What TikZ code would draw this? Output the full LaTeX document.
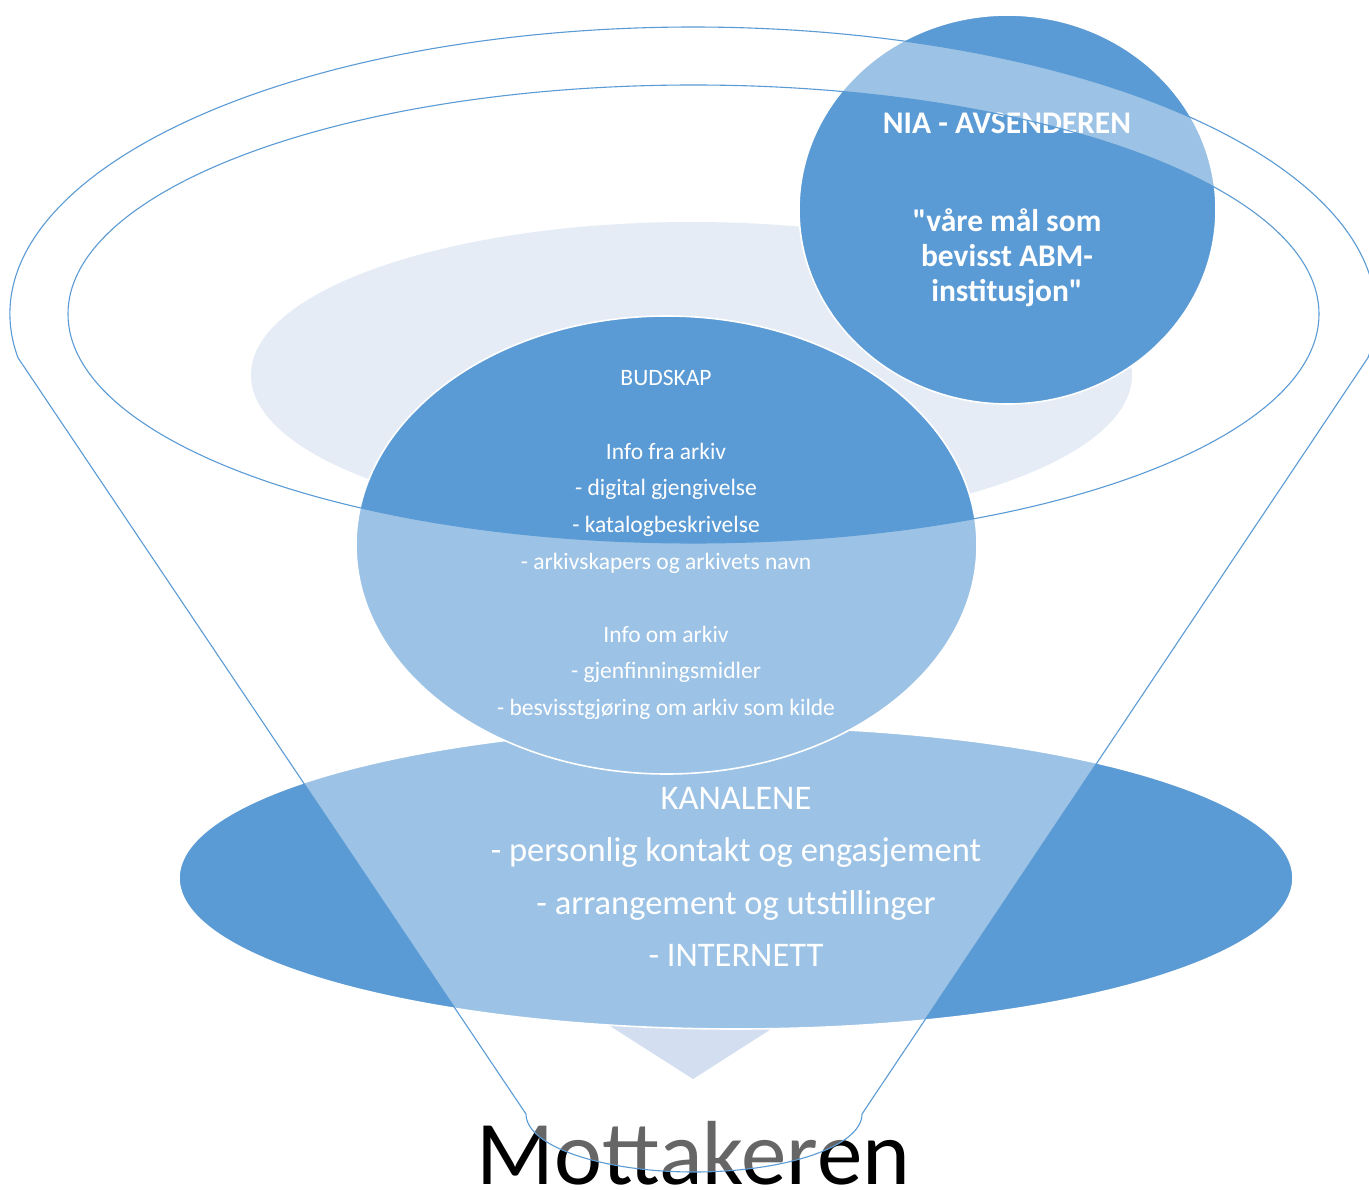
\documentclass[tikz,border=0pt]{standalone}
\usepackage{fontspec}
\setmainfont{Carlito}[Ligatures=TeXOff]
\usetikzlibrary{shapes.geometric}

\definecolor{funnelblue}{RGB}{91,155,213}
\definecolor{palefill}{RGB}{229,236,246}
\definecolor{tipfill}{RGB}{182,203,232}

\begin{document}
\begin{tikzpicture}[x=1pt,y=-1pt,
  blob/.style={ellipse, draw=white, line width=1.6pt, fill=funnelblue, inner sep=0pt},
  paleblob/.style={ellipse, draw=none, fill=palefill, inner sep=0pt},
  linetext/.style={anchor=base, text=white, inner sep=0pt},
  senderfont/.style={linetext, font=\fontsize{31.5pt}{35pt}\selectfont\bfseries},
  messagefont/.style={linetext, font=\fontsize{23.5pt}{36.6pt}\selectfont},
  channelfont/.style={linetext, font=\fontsize{34.5pt}{52.6pt}\selectfont},
  funnelline/.style={draw=funnelblue, line width=1.1pt},
]
% page
\fill[white] (0,0) rectangle (1369,1190);
\useasboundingbox (0,0) rectangle (1369,1190);

% shapes in the funnel, back to front
\node[paleblob, minimum width=881pt, minimum height=306pt] (pale) at (691.5,375) {};
\fill[tipfill] (585,1010) -- (801,1010) -- (693,1079) -- cycle;
\node[blob, minimum width=1114pt, minimum height=302pt] (channels) at (736,878) {};
\node[blob, minimum width=621pt, minimum height=458pt] (message) at (666.5,545) {};
\node[blob, minimum width=417pt, minimum height=389pt] (sender) at (1007.5,209.5) {};

% sender text
\node[senderfont] (sender-title) at (1007,134) {NIA - AVSENDEREN};
\foreach \yy/\txt [count=\i] in {232/"våre mål som, 267/bevisst ABM-, 302/institusjon"}
  \node[senderfont] (sender-line\i) at (1007,\yy) {\txt};

% message text
\foreach \yy/\txt [count=\i] in {386/BUDSKAP,
    459.3/Info fra arkiv, 495.9/- digital gjengivelse, 532.5/- katalogbeskrivelse,
    569.1/- arkivskapers og arkivets navn,
    642.3/Info om arkiv, 678.9/- gjenfinningsmidler, 715.5/- besvisstgjøring om arkiv som kilde}
  \node[messagefont] (message-line\i) at (666,\yy) {\txt};

% channel text
\foreach \yy/\txt [count=\i] in {809/KANALENE, 861.6/- personlig kontakt og engasjement,
    914.2/- arrangement og utstillinger, 966.8/- INTERNETT}
  \node[channelfont] (channel-line\i) at (736,\yy) {\txt};

% receiver
\node[anchor=base, inner sep=0pt, font=\fontsize{91pt}{100pt}\selectfont] (receiver) at (693.5,1184) {Mottakeren};

% the funnel: translucent body with the open mouth cut out
\coordinate (rim-left) at (18,357.8);
\coordinate (rim-right) at (1368,357.8);
\coordinate (spout-right) at (862,1114);
\coordinate (spout-left) at (526,1114);
\fill[white, fill opacity=0.4, even odd rule]
  (rim-left) arc[start angle=171.22, end angle=368.78, x radius=683, y radius=287]
  -- (spout-right) arc[start angle=0, end angle=180, x radius=168, y radius=58]
  -- cycle
  (693.5,314) ellipse[x radius=625.5, y radius=229];
\draw[funnelline, line join=round]
  (rim-left) arc[start angle=171.22, end angle=368.78, x radius=683, y radius=287]
  -- (spout-right) arc[start angle=0, end angle=180, x radius=168, y radius=58]
  -- cycle;
\draw[funnelline] (693.5,314) ellipse[x radius=625.5, y radius=229];
\end{tikzpicture}
\end{document}
